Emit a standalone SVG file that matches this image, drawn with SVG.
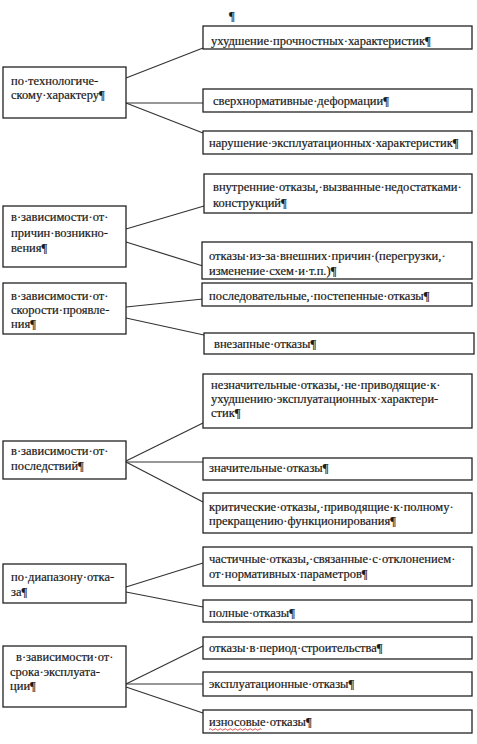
<svg xmlns="http://www.w3.org/2000/svg" width="477" height="744" viewBox="0 0 477 744">
<style>
.box{fill:#fff;stroke:#222;stroke-width:1.3}
.t{font-family:'Liberation Serif','Times New Roman',serif;font-size:12.5px;fill:#1a1a1a;stroke:#1a1a1a;stroke-width:0.2}
.c line{stroke:#333;stroke-width:1.2}
</style>
<rect width="477" height="744" fill="#fff"/>
<text class="t" x="229" y="20">¶</text>
<g class="c" id="connectors">
<line x1="126" y1="78" x2="203" y2="48"/>
<line x1="126" y1="103" x2="203" y2="103"/>
<line x1="126" y1="103" x2="203" y2="133"/>
<line x1="126" y1="229" x2="204" y2="206"/>
<line x1="126" y1="242" x2="203" y2="266"/>
<line x1="126" y1="307" x2="203" y2="299"/>
<line x1="126" y1="318" x2="204" y2="335"/>
<line x1="126" y1="461" x2="203" y2="423"/>
<line x1="126" y1="462" x2="203" y2="462"/>
<line x1="126" y1="462" x2="203" y2="502"/>
<line x1="126" y1="587" x2="203" y2="563"/>
<line x1="126" y1="592" x2="203" y2="607"/>
<line x1="126" y1="684" x2="203" y2="646"/>
<line x1="126" y1="684" x2="203" y2="684"/>
<line x1="126" y1="687" x2="203" y2="713"/>
</g>
<g id="left1"><rect class="box" x="3" y="67" width="123" height="51"/><text class="t" x="11" y="85">по·технологиче-</text><text class="t" x="11" y="99">скому·характеру¶</text></g>
<g id="b1"><rect class="box" x="203" y="26" width="269" height="23"/><text class="t" x="211" y="44.5">ухудшение·прочностных·характеристик¶</text></g>
<g id="b2"><rect class="box" x="203" y="89" width="269" height="23"/><text class="t" x="213" y="104.5">сверхнормативные·деформации¶</text></g>
<g id="b3"><rect class="box" x="203" y="131" width="269" height="23"/><text class="t" x="209" y="147">нарушение·эксплуатационных·характеристик¶</text></g>
<g id="left2"><rect class="box" x="3" y="206" width="123" height="61"/><text class="t" x="11" y="221">в·зависимости·от·</text><text class="t" x="11" y="237">причин·возникно-</text><text class="t" x="11" y="252">вения¶</text></g>
<g id="b4"><rect class="box" x="204" y="174" width="268" height="39"/><text class="t" x="213" y="191">внутренние·отказы,·вызванные·недостатками·</text><text class="t" x="213" y="207">конструкций¶</text></g>
<g id="b5"><rect class="box" x="202" y="242" width="270" height="37"/><text class="t" x="209" y="260">отказы·из-за·внешних·причин·(перегрузки,·</text><text class="t" x="209" y="275">изменение·схем·и·т.п.)¶</text></g>
<g id="left3"><rect class="box" x="3" y="283" width="123" height="51"/><text class="t" x="11" y="300">в·зависимости·от·</text><text class="t" x="11" y="314">скорости·проявле-</text><text class="t" x="11" y="328">ния¶</text></g>
<g id="b6"><rect class="box" x="202" y="283" width="270" height="23"/><text class="t" x="209" y="300">последовательные,·постепенные·отказы¶</text></g>
<g id="b7"><rect class="box" x="204" y="333" width="270" height="21"/><text class="t" x="214" y="348">внезапные·отказы¶</text></g>
<g id="left4"><rect class="box" x="3" y="441" width="123" height="38"/><text class="t" x="11" y="455">в·зависимости·от·</text><text class="t" x="11" y="470">последствий¶</text></g>
<g id="b8"><rect class="box" x="203" y="374" width="269" height="54"/><text class="t" x="211" y="389">незначительные·отказы,·не·приводящие·к·</text><text class="t" x="211" y="403">ухудшению·эксплуатационных·характери-</text><text class="t" x="211" y="417">стик¶</text></g>
<g id="b9"><rect class="box" x="203" y="458" width="269" height="22"/><text class="t" x="209" y="472">значительные·отказы¶</text></g>
<g id="b10"><rect class="box" x="203" y="493" width="269" height="40"/><text class="t" x="209" y="511">критические·отказы,·приводящие·к·полному·</text><text class="t" x="209" y="525">прекращению·функционирования¶</text></g>
<g id="left5"><rect class="box" x="3" y="564" width="123" height="39"/><text class="t" x="11" y="581">по·диапазону·отка-</text><text class="t" x="11" y="596">за¶</text></g>
<g id="b11"><rect class="box" x="203" y="547" width="269" height="39"/><text class="t" x="209" y="563">частичные·отказы,·связанные·с·отклонением·</text><text class="t" x="209" y="578">от·нормативных·параметров¶</text></g>
<g id="b12"><rect class="box" x="203" y="600" width="269" height="22"/><text class="t" x="209" y="617">полные·отказы¶</text></g>
<g id="left6"><rect class="box" x="3" y="646" width="123" height="61"/><text class="t" x="16" y="661">в·зависимости·от·</text><text class="t" x="10" y="676">срока·эксплуата-</text><text class="t" x="10" y="690">ции¶</text></g>
<g id="b13"><rect class="box" x="203" y="637" width="269" height="22"/><text class="t" x="209" y="652">отказы·в·период·строительства¶</text></g>
<g id="b14"><rect class="box" x="203" y="672" width="269" height="24"/><text class="t" x="209" y="688">эксплуатационные·отказы¶</text></g>
<g id="b15"><rect class="box" x="203" y="710" width="269" height="23"/><text class="t" x="209" y="726">износовые·отказы¶</text><path d="M209 729.5 q1.25 -1.5 2.5 0 t2.5 0 t2.5 0 t2.5 0 t2.5 0 t2.5 0 t2.5 0 t2.5 0 t2.5 0 t2.5 0 t2.5 0 t2.5 0 t2.5 0 t2.5 0 t2.5 0 t2.5 0 t2.5 0 t2.5 0 t2.5 0 t2.5 0 t2.5 0" fill="none" stroke="#e02020" stroke-width="0.8"/></g>
</svg>
